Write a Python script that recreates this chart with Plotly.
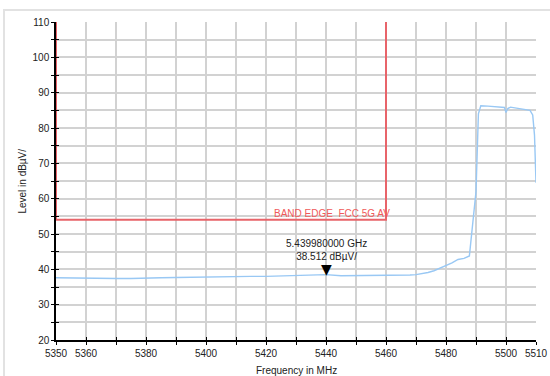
import plotly.graph_objects as go

# ---- data ----
freq_mhz = [5350, 5355, 5360, 5365, 5370, 5375, 5380, 5385, 5390, 5395, 5400,
            5405, 5410, 5415, 5420, 5425, 5430, 5435, 5440, 5445, 5450, 5455,
            5460, 5465, 5468, 5470, 5472, 5474, 5476, 5478, 5480, 5482, 5484,
            5486, 5487.8, 5490.0, 5490.8, 5491.6, 5494, 5496, 5498, 5499.5,
            5500, 5500.6, 5501.5, 5504, 5506, 5508, 5508.9, 5509.5, 5510]
level_dbuv = [37.6, 37.5, 37.6, 37.5, 37.4, 37.4, 37.6, 37.6, 37.7, 37.8, 37.9,
              37.9, 38.0, 38.0, 38.0, 38.1, 38.1, 38.2, 38.5, 38.2, 38.2, 38.2,
              38.2, 38.3, 38.4, 38.5, 38.7, 39.1, 39.6, 40.3, 41.0, 41.8, 42.8,
              43.1, 43.8, 62.0, 84.0, 86.3, 86.2, 86.1, 86.0, 85.8,
              84.4, 85.5, 85.9, 85.6, 85.4, 85.0, 83.7, 78.0, 64.5]

limit_freq = [5350, 5350, 5460, 5460]
limit_level = [110, 54, 54, 110]
limit_name = "BAND EDGE  FCC 5G AV"

marker_freq = 5440
marker_level = 38.512
marker_text = "5.439980000 GHz<br>38.512 dBµV/"

x_tickvals = list(range(5350, 5511, 10))
x_ticklabels = ["5350", "5360", "", "5380", "", "5400", "", "5420", "", "5440",
                "", "5460", "", "5480", "", "5500", "5510"]
y_tickvals = list(range(20, 111, 5))
y_ticklabels = [str(v) if v % 10 == 0 else "" for v in y_tickvals]

FONT = "Liberation Sans, Arial, sans-serif"
GRID = "#d2d2d2"

fig = go.Figure()
fig.add_trace(go.Scatter(x=freq_mhz, y=level_dbuv, mode="lines",
                         line=dict(color="#99c8f4", width=1.4),
                         hoverinfo="skip", showlegend=False))
fig.add_trace(go.Scatter(x=limit_freq, y=limit_level, mode="lines",
                         line=dict(color="#e8646a", width=2),
                         hoverinfo="skip", showlegend=False))
# inside ticks (second axes) so ticks cross the axis lines
fig.add_trace(go.Scatter(x=[5350], y=[20], xaxis="x2", yaxis="y2",
                         mode="markers", marker=dict(opacity=0),
                         hoverinfo="skip", showlegend=False))

fig.add_annotation(x=5462, y=54, text=limit_name, showarrow=False,
                   xanchor="right", yanchor="bottom", yshift=-1,
                   font=dict(family=FONT, size=10, color="#f05a5a"))
fig.add_annotation(x=marker_freq, y=marker_level, text="▼", showarrow=False,
                   xanchor="center", yanchor="bottom", yshift=-4,
                   font=dict(family="DejaVu Sans", size=14, color="black"))
fig.add_annotation(x=marker_freq, y=marker_level, text=marker_text, showarrow=False,
                   xanchor="center", yanchor="bottom", yshift=11,
                   font=dict(family=FONT, size=10, color="#222"))
fig.add_annotation(x=0.5, y=-0.072, xref="paper", yref="paper",
                   text="Frequency in MHz", showarrow=False,
                   xanchor="center", yanchor="top",
                   font=dict(family=FONT, size=10, color="#222"))
fig.add_annotation(x=-0.056, y=0.5, xref="paper", yref="paper",
                   text="Level in dBµV/", showarrow=False, textangle=-90,
                   xanchor="right", yanchor="middle",
                   font=dict(family=FONT, size=10, color="#222"))

axis_common = dict(showline=True, linecolor="black", linewidth=1.5,
                   ticks="outside", ticklen=3, tickcolor="black", tickwidth=1.2,
                   showgrid=True, gridcolor=GRID, gridwidth=1.5,
                   zeroline=False, automargin=False,
                   tickfont=dict(family=FONT, size=10, color="#222"))

fig.update_layout(
    width=550, height=376,
    margin=dict(l=56, r=14, t=22, b=36),
    paper_bgcolor="white", plot_bgcolor="white",
    xaxis=dict(range=[5350, 5510], tickmode="array", tickvals=x_tickvals,
               ticktext=x_ticklabels, **axis_common),
    yaxis=dict(range=[20, 110], tickmode="array", tickvals=y_tickvals,
               ticktext=y_ticklabels, **axis_common),
    xaxis2=dict(range=[5350, 5510], overlaying="x", tickmode="array",
                tickvals=x_tickvals, showticklabels=False, ticks="inside",
                ticklen=3, tickcolor="black", tickwidth=1.2, showgrid=False,
                zeroline=False, showline=False, automargin=False),
    yaxis2=dict(range=[20, 110], overlaying="y", tickmode="array",
                tickvals=y_tickvals, showticklabels=False, ticks="inside",
                ticklen=3, tickcolor="black", tickwidth=1.2, showgrid=False,
                zeroline=False, showline=False, automargin=False),
)

frame_js = (
    "document.body.style.margin='0';document.body.style.padding='0';"
    "var f=document.createElement('div');"
    "f.style.cssText='position:absolute;left:3px;top:9px;width:600px;height:420px;"
    "border-left:2px solid #e2e2e2;border-top:2px solid #e2e2e2;pointer-events:none;z-index:10;';"
    "document.body.appendChild(f);"
)
fig.write_html("out.html", config={"displayModeBar": False}, post_script=frame_js)
